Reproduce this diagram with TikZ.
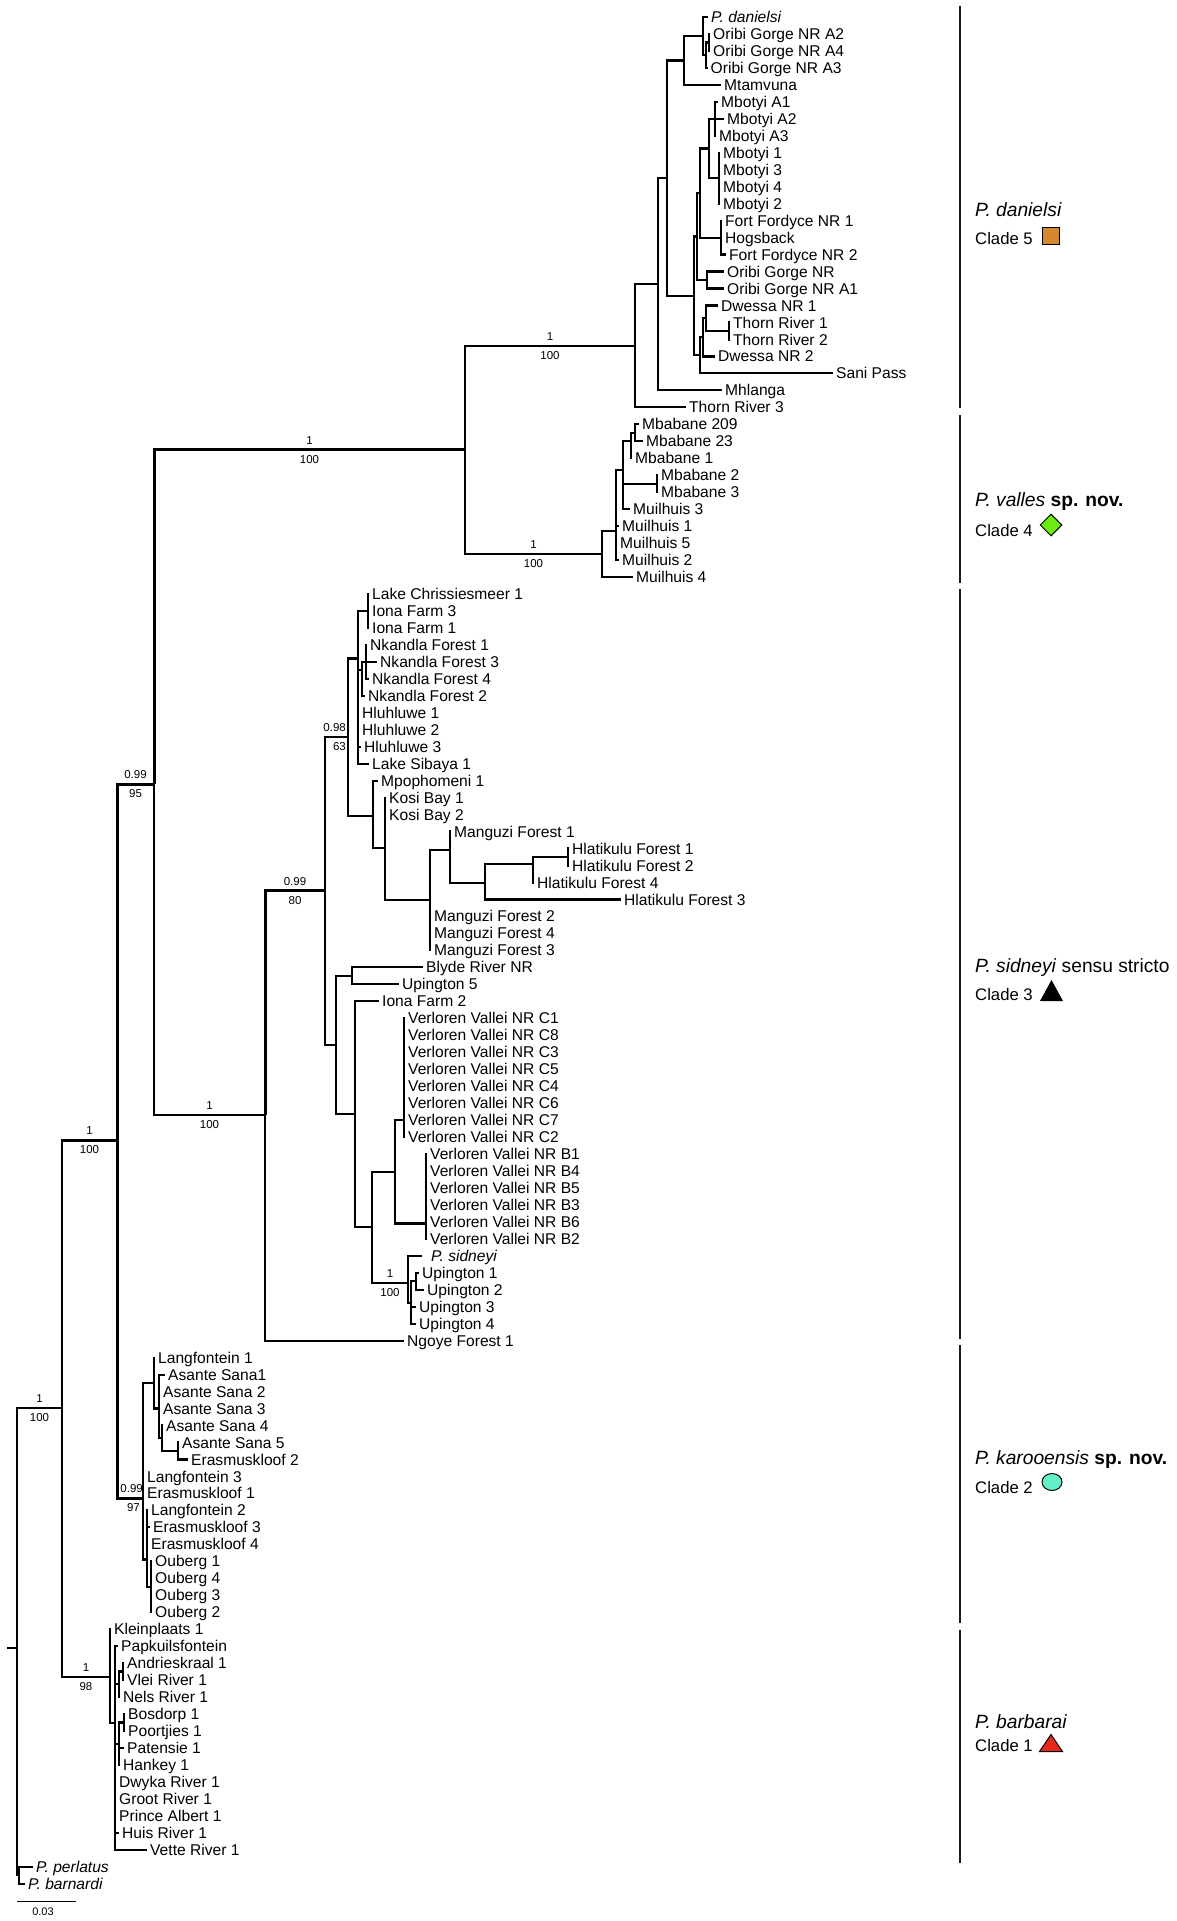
\documentclass[tikz,border=0pt]{standalone}
\usepackage{fontspec}
\setmainfont{Liberation Sans}
\usetikzlibrary{calc,shapes.geometric}
\newcommand\leaffont{\fontsize{15.6}{17}\selectfont}
\newcommand\supfont{\fontsize{11.5}{13}\selectfont}
\newcommand\spfont{\fontsize{19.2}{21}\selectfont}
\newcommand\cladefont{\fontsize{16.7}{19}\selectfont}
\newcommand\leafat[4]{\node[leaf] (#1) at (#2,#3) {#4};}
\newcommand\kids[2]{\foreach \kd in {#2}{\draw[branch] (#1) |- (\kd);}}
\definecolor{cladeorange}{RGB}{214,133,48}
\definecolor{cladegreen}{RGB}{110,235,20}
\definecolor{cladeaqua}{RGB}{100,240,200}
\definecolor{cladered}{RGB}{230,40,30}
\tikzset{
  branch/.style={line width=2.2pt, black},
  tbranch/.style={line width=3pt, black},
  leaf/.style={anchor=west, inner xsep=3pt, inner ysep=0pt, text height=11.15pt, text depth=0pt, font=\leaffont},
  supa/.style={font=\supfont, inner sep=0pt, yshift=9.5pt},
  supb/.style={font=\supfont, inner sep=0pt, yshift=-9.5pt},
  cladebar/.style={line width=2.8pt, black!90},
  sptext/.style={anchor=base west, inner sep=0pt, font=\spfont},
  cltext/.style={anchor=base west, inner sep=0pt, font=\cladefont},
}
\begin{document}
\begin{tikzpicture}[x=1pt,y=-1pt]
\fill[white] (0,0) rectangle (1176,1921);
\useasboundingbox (0,0) rectangle (1176,1921);

\begin{scope}[x=1pt,y=-16.97pt,yshift=-17pt]
% ---------- internal nodes ----------
\coordinate (R0) at (7,96.1);
\coordinate (R) at (17,96.1);
\coordinate (O) at (19,109.5);
\coordinate (J) at (62,81.98);
\coordinate (I) at (117,66.2);
\coordinate (L) at (110,97.8);
\coordinate (L2) at (115,100.55);
\coordinate (AVN) at (119,98.25);
\coordinate (AV) at (123,97.5);
\coordinate (BPH) at (119,101.75);
\coordinate (BP) at (124,100.5);
\coordinate (K) at (143,87.3);
\coordinate (K1) at (154,80.5);
\coordinate (K3) at (159,82);
\coordinate (K4) at (162,83.75);
\coordinate (K5) at (178,84.5);
\coordinate (K2) at (147,90.9);
\coordinate (K6) at (151,92.5);
\coordinate (G) at (154,45.2);
\coordinate (F) at (465,25.5);
\coordinate (H) at (265,64.7);
\coordinate (A) at (635,19.375);
\coordinate (B) at (658,15.75);
\coordinate (C) at (667,9.5);
\coordinate (D) at (684,2.5625);
\coordinate (N1) at (703,1.125);
\coordinate (N2) at (706,2.25);
\coordinate (N3) at (709,1.5);
\coordinate (E) at (694,16.44);
\coordinate (P) at (697,12.94);
\coordinate (M) at (700,10.375);
\coordinate (MB) at (709,7.75);
\coordinate (MA) at (715,6);
\coordinate (M4) at (719,9.5);
\coordinate (FF) at (721,13);
\coordinate (OG) at (707,15.5);
\coordinate (DS) at (700,19.94);
\coordinate (DW2) at (703,18.875);
\coordinate (DW1) at (706,17.75);
\coordinate (TR) at (729,18.5);
\coordinate (V) at (602,31.64);
\coordinate (V2) at (616,30.3);
\coordinate (V3) at (623,26.7);
\coordinate (V4) at (631,25);
\coordinate (V4a) at (635,24.5);
\coordinate (V5) at (657,27.5);
\coordinate (S1) at (325,51.5);
\coordinate (S2) at (348,42.45);
\coordinate (S3) at (358,37.8);
\coordinate (LC) at (368,35);
\coordinate (NK) at (362,38.5);
\coordinate (NKa) at (366,38);
\coordinate (S4) at (373,47.1);
\coordinate (S6) at (385,48.95);
\coordinate (S7) at (430,52.05);
\coordinate (S8) at (450,49.1);
\coordinate (S9) at (485,51.05);
\coordinate (S10) at (533,49.9);
\coordinate (S11) at (568,49.5);
\coordinate (S12) at (336,60.6);
\coordinate (S13) at (352,56.5);
\coordinate (S14) at (355,64.65);
\coordinate (S15) at (372,71.3);
\coordinate (S16) at (395,68.06);
\coordinate (VC) at (404,65);
\coordinate (VB) at (426,71.1);
\coordinate (S17) at (408,74.6);
\coordinate (S18) at (411,75.8);
\coordinate (S19) at (416,74.5);

% ---------- leaves ----------
\leafat{l0}{708}{0}{\textit{P. danielsi}}
\leafat{l1}{710}{1}{Oribi Gorge NR A2}
\leafat{l2}{710}{2}{Oribi Gorge NR A4}
\leafat{l3}{707.5}{3}{Oribi Gorge NR A3}
\leafat{l4}{721}{4}{Mtamvuna}
\leafat{l5}{718}{5}{Mbotyi A1}
\leafat{l6}{724}{6}{Mbotyi A2}
\leafat{l7}{716}{7}{Mbotyi A3}
\leafat{l8}{720}{8}{Mbotyi 1}
\leafat{l9}{720}{9}{Mbotyi 3}
\leafat{l10}{720}{10}{Mbotyi 4}
\leafat{l11}{720}{11}{Mbotyi 2}
\leafat{l12}{722}{12}{Fort Fordyce NR 1}
\leafat{l13}{722}{13}{Hogsback}
\leafat{l14}{726}{14}{Fort Fordyce NR 2}
\leafat{l15}{724}{15}{Oribi Gorge NR}
\leafat{l16}{724}{16}{Oribi Gorge NR A1}
\leafat{l17}{718}{17}{Dwessa NR 1}
\leafat{l18}{730}{18}{Thorn River 1}
\leafat{l19}{730}{19}{Thorn River 2}
\leafat{l20}{715}{20}{Dwessa NR 2}
\leafat{l21}{833}{21}{Sani Pass}
\leafat{l22}{722}{22}{Mhlanga}
\leafat{l23}{686}{23}{Thorn River 3}
\leafat{l24}{639}{24}{Mbabane 209}
\leafat{l25}{643}{25}{Mbabane 23}
\leafat{l26}{632}{26}{Mbabane 1}
\leafat{l27}{658}{27}{Mbabane 2}
\leafat{l28}{658}{28}{Mbabane 3}
\leafat{l29}{630}{29}{Muilhuis 3}
\leafat{l30}{619}{30}{Muilhuis 1}
\leafat{l31}{617}{31}{Muilhuis 5}
\leafat{l32}{619}{32}{Muilhuis 2}
\leafat{l33}{633}{33}{Muilhuis 4}
\leafat{l34}{369}{34}{Lake Chrissiesmeer 1}
\leafat{l35}{369}{35}{Iona Farm 3}
\leafat{l36}{369}{36}{Iona Farm 1}
\leafat{l37}{367}{37}{Nkandla Forest 1}
\leafat{l38}{377}{38}{Nkandla Forest 3}
\leafat{l39}{369}{39}{Nkandla Forest 4}
\leafat{l40}{365}{40}{Nkandla Forest 2}
\leafat{l41}{359}{41}{Hluhluwe 1}
\leafat{l42}{359}{42}{Hluhluwe 2}
\leafat{l43}{361}{43}{Hluhluwe 3}
\leafat{l44}{369}{44}{Lake Sibaya 1}
\leafat{l45}{378}{45}{Mpophomeni 1}
\leafat{l46}{386}{46}{Kosi Bay 1}
\leafat{l47}{386}{47}{Kosi Bay 2}
\leafat{l48}{451}{48}{Manguzi Forest 1}
\leafat{l49}{569}{49}{Hlatikulu Forest 1}
\leafat{l50}{569}{50}{Hlatikulu Forest 2}
\leafat{l51}{534}{51}{Hlatikulu Forest 4}
\leafat{l52}{621}{52}{Hlatikulu Forest 3}
\leafat{l53}{431}{53}{Manguzi Forest 2}
\leafat{l54}{431}{54}{Manguzi Forest 4}
\leafat{l55}{431}{55}{Manguzi Forest 3}
\leafat{l56}{423}{56}{Blyde River NR}
\leafat{l57}{399}{57}{Upington 5}
\leafat{l58}{379}{58}{Iona Farm 2}
\leafat{l59}{405}{59}{Verloren Vallei NR C1}
\leafat{l60}{405}{60}{Verloren Vallei NR C8}
\leafat{l61}{405}{61}{Verloren Vallei NR C3}
\leafat{l62}{405}{62}{Verloren Vallei NR C5}
\leafat{l63}{405}{63}{Verloren Vallei NR C4}
\leafat{l64}{405}{64}{Verloren Vallei NR C6}
\leafat{l65}{405}{65}{Verloren Vallei NR C7}
\leafat{l66}{405}{66}{Verloren Vallei NR C2}
\leafat{l67}{427}{67}{Verloren Vallei NR B1}
\leafat{l68}{427}{68}{Verloren Vallei NR B4}
\leafat{l69}{427}{69}{Verloren Vallei NR B5}
\leafat{l70}{427}{70}{Verloren Vallei NR B3}
\leafat{l71}{427}{71}{Verloren Vallei NR B6}
\leafat{l72}{427}{72}{Verloren Vallei NR B2}
\leafat{l73}{422}{73}{\hspace{6pt}\textit{P. sidneyi}}
\leafat{l74}{419}{74}{Upington 1}
\leafat{l75}{424}{75}{Upington 2}
\leafat{l76}{416}{76}{Upington 3}
\leafat{l77}{416}{77}{Upington 4}
\leafat{l78}{404}{78}{Ngoye Forest 1}
\leafat{l79}{155}{79}{Langfontein 1}
\leafat{l80}{165}{80}{Asante Sana1}
\leafat{l81}{160}{81}{Asante Sana 2}
\leafat{l82}{160}{82}{Asante Sana 3}
\leafat{l83}{163}{83}{Asante Sana 4}
\leafat{l84}{179}{84}{Asante Sana 5}
\leafat{l85}{188}{85}{Erasmuskloof 2}
\leafat{l86}{144}{86}{Langfontein 3}
\leafat{l87}{144}{87}{Erasmuskloof 1}
\leafat{l88}{148}{88}{Langfontein 2}
\leafat{l89}{150}{89}{Erasmuskloof 3}
\leafat{l90}{148}{90}{Erasmuskloof 4}
\leafat{l91}{152}{91}{Ouberg 1}
\leafat{l92}{152}{92}{Ouberg 4}
\leafat{l93}{152}{93}{Ouberg 3}
\leafat{l94}{152}{94}{Ouberg 2}
\leafat{l95}{111}{95}{Kleinplaats 1}
\leafat{l96}{118}{96}{Papkuilsfontein}
\leafat{l97}{124}{97}{Andrieskraal 1}
\leafat{l98}{124}{98}{Vlei River 1}
\leafat{l99}{120}{99}{Nels River 1}
\leafat{l100}{125}{100}{Bosdorp 1}
\leafat{l101}{125}{101}{Poortjies 1}
\leafat{l102}{124}{102}{Patensie 1}
\leafat{l103}{120}{103}{Hankey 1}
\leafat{l104}{116}{104}{Dwyka River 1}
\leafat{l105}{116}{105}{Groot River 1}
\leafat{l106}{116}{106}{Prince Albert 1}
\leafat{l107}{119}{107}{Huis River 1}
\leafat{l108}{147}{108}{Vette River 1}
\leafat{l109}{33}{109}{\textit{P. perlatus}}
\leafat{l110}{25}{110}{\textit{P. barnardi}}

% ---------- branches ----------
\draw[branch] (R0) -- (R);
\kids{R}{J,O}
\kids{O}{l109,l110}
\kids{J}{I,L}
\draw[tbranch] (I) |- (G);
\draw[tbranch] (I) |- (K);
\kids{L}{l95,L2}
\kids{L2}{l96,AVN,BPH,l104,l105,l106,l107,l108}
\kids{AVN}{AV,l99}
\kids{AV}{l97,l98}
\kids{BPH}{BP,l102,l103}
\kids{BP}{l100,l101}
\kids{K}{K1,l86,l87,K2}
\kids{K1}{l79,K3}
\kids{K3}{l80,l81,l82,K4}
\kids{K4}{l83,K5}
\kids{K5}{l84,l85}
\kids{K2}{l88,l89,l90,K6}
\kids{K6}{l91,l92,l93,l94}
\draw[tbranch] (G) |- (F);
\kids{G}{H}
\kids{F}{A,V}
\kids{A}{B,l23}
\kids{B}{C,l22}
\kids{C}{D,E}
\kids{D}{N1,l4}
\kids{N1}{l0,N2}
\kids{N2}{N3,l3}
\kids{N3}{l1,l2}
\kids{E}{P,DS}
\kids{P}{M,OG}
\kids{M}{MB,FF}
\kids{MB}{MA,M4}
\kids{MA}{l5,l6,l7}
\kids{M4}{l8,l9,l10,l11}
\kids{FF}{l12,l13,l14}
\kids{OG}{l15,l16}
\kids{DS}{DW2,l21}
\kids{DW2}{DW1,l20}
\kids{DW1}{l17,TR}
\kids{TR}{l18,l19}
\kids{V}{V2,l33}
\kids{V2}{V3,l30,l31,l32}
\kids{V3}{V4,V5,l29}
\kids{V4}{V4a,l26}
\kids{V4a}{l24,l25}
\kids{V5}{l27,l28}
\draw[tbranch] (H) |- (S1);
\kids{H}{l78}
\kids{S1}{S2,S12}
\kids{S2}{S3,S4}
\kids{S3}{LC,NK,l41,l42,l43,l44}
\kids{LC}{l34,l35,l36}
\kids{NK}{NKa,l40}
\kids{NKa}{l37,l38,l39}
\kids{S4}{l45,S6}
\kids{S6}{l46,l47,S7}
\kids{S7}{S8,l53,l54,l55}
\kids{S8}{l48,S9}
\kids{S9}{S10,l52}
\kids{S10}{S11,l51}
\kids{S11}{l49,l50}
\kids{S12}{S13,S14}
\kids{S13}{l56,l57}
\kids{S14}{l58,S15}
\kids{S15}{S16,S17}
\kids{S16}{VC,VB}
\kids{VC}{l59,l60,l61,l62,l63,l64,l65,l66}
\kids{VB}{l67,l68,l69,l70,l71,l72}
\kids{S17}{l73,S18}
\kids{S18}{S19,l76,l77}
\kids{S19}{l74,l75}

% ---------- support values ----------
\node[supa] (sAa) at ($(F|-A)!.5!(A)$) {1};
\node[supb] (sAb) at ($(F|-A)!.5!(A)$) {100};
\node[supa] (sFa) at ($(G|-F)!.5!(F)$) {1};
\node[supb] (sFb) at ($(G|-F)!.5!(F)$) {100};
\node[supa] (sVa) at ($(F|-V)!.5!(V)$) {1};
\node[supb] (sVb) at ($(F|-V)!.5!(V)$) {100};
\node[supa] (sGa) at ($(I|-G)!.5!(G)$) {0.99};
\node[supb] (sGb) at ($(I|-G)!.5!(G)$) {95};
\node[supa] (sHa) at ($(G|-H)!.5!(H)$) {1};
\node[supb] (sHb) at ($(G|-H)!.5!(H)$) {100};
\node[supa] (s1a) at ($(H|-S1)!.5!(S1)$) {0.99};
\node[supb] (s1b) at ($(H|-S1)!.5!(S1)$) {80};
\node[supa,anchor=east] (s2a) at ($(S2)+(-2,0)$) {0.98};
\node[supb,anchor=east] (s2b) at ($(S2)+(-2,0)$) {63};
\node[supa] (s17a) at ($(S15|-S17)!.5!(S17)$) {1};
\node[supb] (s17b) at ($(S15|-S17)!.5!(S17)$) {100};
\node[supa] (sIa) at ($(J|-I)!.5!(I)$) {1};
\node[supb] (sIb) at ($(J|-I)!.5!(I)$) {100};
\node[supa] (sJa) at ($(R|-J)!.5!(J)$) {1};
\node[supb] (sJb) at ($(R|-J)!.5!(J)$) {100};
\node[supa,anchor=east] (sKa) at ($(K)+(0,0)$) {0.99};
\node[supb,anchor=east] (sKb) at ($(K)+(-3,0)$) {97};
\node[supa] (sLa) at ($(J|-L)!.5!(L)$) {1};
\node[supb] (sLb) at ($(J|-L)!.5!(L)$) {98};
\end{scope}

% ---------- clade bars ----------
\draw[cladebar] (960,6) -- (960,408);
\draw[cladebar] (960,415) -- (960,583);
\draw[cladebar] (960,589) -- (960,1339);
\draw[cladebar] (960,1345) -- (960,1623);
\draw[cladebar] (960,1630) -- (960,1863);

% ---------- clade labels ----------
\node[sptext] (c5a) at (975,216.5) {\textit{P. danielsi}};
\node[cltext] (c5b) at (975,244) {Clade 5};
\node[draw, line width=1pt, fill=cladeorange, minimum size=17pt, inner sep=0pt] (c5m) at (1051,235.5) {};

\node[sptext] (c4a) at (975,506.7) {\textit{P. valles} \textbf{sp. nov.}};
\node[cltext] (c4b) at (975,536) {Clade 4};
\node[diamond, draw, line width=1pt, fill=cladegreen, minimum size=22pt, inner sep=0pt] (c4m) at (1051,525) {};

\node[sptext] (c3a) at (975,972) {\textit{P. sidneyi} sensu stricto};
\node[cltext] (c3b) at (975,1000) {Clade 3};
\fill[black] (1040,1001) -- (1051.5,980) -- (1063,1001) -- cycle;

\node[sptext] (c2a) at (975,1464) {\textit{P. karooensis} \textbf{sp. nov.}};
\node[cltext] (c2b) at (975,1493) {Clade 2};
\node[ellipse, draw, line width=1pt, fill=cladeaqua, minimum width=20pt, minimum height=17pt, inner sep=0pt] (c2m) at (1052,1482) {};

\node[sptext] (c1a) at (975,1728) {\textit{P. barbarai}};
\node[cltext] (c1b) at (975,1751) {Clade 1};
\draw[line width=1pt, fill=cladered, line join=miter] (1039.5,1751.5) -- (1051,1734.5) -- (1062.5,1751.5) -- cycle;

% ---------- scale bar ----------
\coordinate (sb1) at (17,1901.7);
\coordinate (sb2) at (76,1901.7);
\draw[line width=1.2pt] (sb1) -- (sb2);
\node[font=\fontsize{11}{12}\selectfont, inner sep=0pt] (sbl) at (43,1911.5) {0.03};
\end{tikzpicture}
\end{document}
